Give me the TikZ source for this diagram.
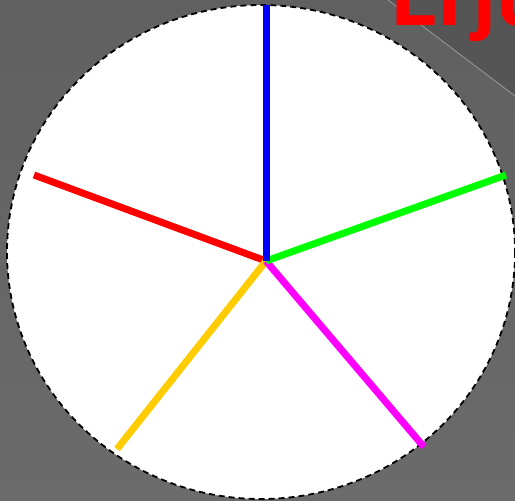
\documentclass[tikz,border=0pt]{standalone}
\usepackage{fontspec}
\newfontfamily\titlefont{Carlito}
\usepackage{tikz}
\usetikzlibrary{calc,positioning}

\definecolor{bggray}{HTML}{606060}
\definecolor{bglight}{HTML}{6B6B6B}
\definecolor{bgdark}{HTML}{555555}
\definecolor{spokeyellow}{HTML}{FFCC00}
\definecolor{spokemagenta}{HTML}{FF00FF}
\definecolor{spokegreen}{HTML}{00FF00}
\definecolor{spokeblue}{HTML}{0000FF}
\definecolor{spokered}{HTML}{FF0000}

\tikzset{
  spoke/.style={line width=7pt},
  rim/.style={draw=black,fill=white,line width=1.8pt,dash pattern=on 6pt off 4pt},
}

\begin{document}
\begin{tikzpicture}[x=1pt,y=-1pt]
\useasboundingbox (0,0) rectangle (515,501);
\clip (0,0) rectangle (515,501);

% Background
\shade[top color=bggray,bottom color=bglight] (0,0) rectangle (515,501);
\fill[bgdark] (388,0) -- (515,96) -- (515,0) -- cycle;
\draw[gray!80,line width=0.8pt] (388,0) -- (515,96);
\node[anchor=base west,inner sep=0pt,text=spokered,font=\titlefont\bfseries\fontsize{96}{96}\selectfont] (title) at (391,25) {Erju};

% Wheel
\draw[rim] (261,252) ellipse [x radius=254,y radius=247];

% Spokes
\coordinate (hub) at (266,261);
\coordinate (tipN) at (266,5);
\coordinate (tipE) at (506,175);
\coordinate (tipW) at (34,175);
\coordinate (tipSW) at (117,449);
\coordinate (tipSE) at (424,447);

\draw[spoke,spokered] (hub) -- (tipW);
\draw[spoke,spokeyellow] (hub) -- (tipSW);
\draw[spoke,spokemagenta] (hub) -- (tipSE);
\draw[spoke,spokegreen] (hub) -- (tipE);
\draw[spoke,spokeblue] (hub) -- (tipN);
\end{tikzpicture}
\end{document}
